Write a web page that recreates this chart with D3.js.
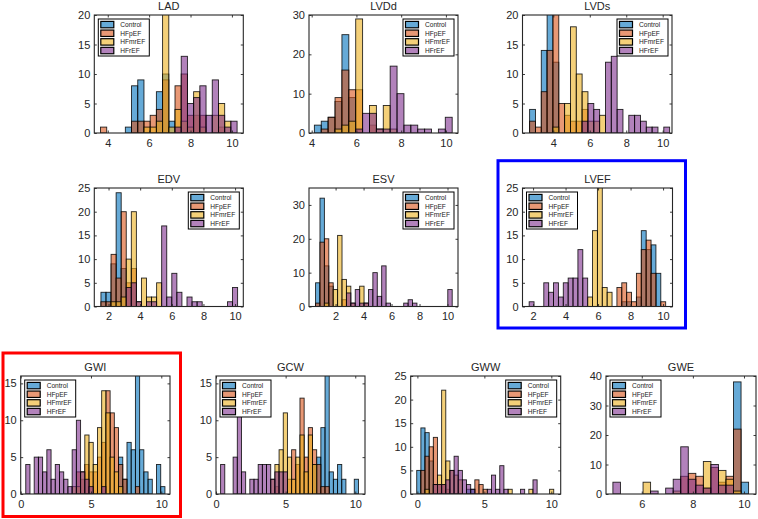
<!DOCTYPE html>
<html><head><meta charset="utf-8">
<script src="https://cdn.jsdelivr.net/npm/d3@7"></script>
<style>
body{margin:0;background:#fff}
svg{display:block}
text{font-family:"Liberation Sans",Arial,Helvetica,sans-serif}
</style>
</head><body>
<svg id="c" width="758" height="519"></svg>
<script>
// ---------- DATA ----------
const seriesNames = ["Control", "HFpEF", "HFmrEF", "HFrEF"];
const panelNames = ["LAD", "LVDd", "LVDs", "EDV", "ESV", "LVEF", "GWI", "GCW", "GWW", "GWE"];
const binStart = [3.65, 4.12, 2.7, 1.52, 0.57, 1.76, 0.36, 0.33, -0.05, 4.87];
const binWidth = [0.3, 0.308, 0.32, 0.32, 0.315, 0.3, 0.3, 0.3, 0.31, 0.295];
const xLimits = [[3.35, 10.55], [3.88, 10.54], [2.31, 10.51], [1.1, 10.52], [0.1, 10.75],
                 [1.35, 10.58], [0, 10.62], [0, 10.7], [-0.5, 10.7], [4.6, 10.47]];
const yMax = [20, 30, 20, 25, 35, 25, 16, 16, 25, 40];
const xTicks = [[4, 6, 8, 10], [4, 6, 8, 10], [4, 6, 8, 10], [2, 4, 6, 8, 10], [2, 4, 6, 8, 10],
                [2, 4, 6, 8, 10], [0, 5, 10], [0, 5, 10], [0, 5, 10], [6, 8, 10]];
const yTicks = [[0, 5, 10, 15, 20], [0, 10, 20, 30], [0, 5, 10, 15, 20], [0, 5, 10, 15, 20, 25],
                [0, 10, 20, 30], [0, 5, 10, 15, 20, 25], [0, 5, 10, 15], [0, 5, 10, 15],
                [0, 5, 10, 15, 20, 25], [0, 10, 20, 30, 40]];

const LAD_Control = [0,0,0,0,1,8,9,0,0,7,10,2,0,0,0,0,0,0,0,0,0,0];
const LAD_HFpEF   = [1,0,0,0,0,2,2,2,3,4,9,0,8,10,3,3,3,0,0,1,0,0];
const LAD_HFmrEF  = [0,0,0,0,0,0,0,1,1,2,25,1,4,2,1,7,1,0,3,5,2,0];
const LAD_HFrEF   = [0,0,0,0,0,0,0,0,0,0,0,0,1,13,5,6,8,3,9,3,1,2];

const LVDd_Control = [2,3,4,8,25,9,0,0,0,0,0,0,0,0,0,0,0,0,0,0];
const LVDd_HFpEF   = [0,1,4,9,16,11,11,0,2,0,0,0,0,0,0,0,0,0,0,0];
const LVDd_HFmrEF  = [0,0,0,1,2,3,29,0,7,1,7,1,0,0,0,0,0,0,0,0];
const LVDd_HFrEF   = [0,0,0,0,0,0,1,5,5,1,1,17,10,2,2,1,1,0,1,4];

const LVDs_Control = [4,0,14,25,12,0,0,0,0,0,0,0,0,0,0,0,0,0,0,0,0,0,0,0];
const LVDs_HFpEF   = [2,1,7,14,25,5,3,2,2,4,0,0,0,0,0,0,0,0,0,0,0,0,0,0];
const LVDs_HFmrEF  = [0,0,0,0,1,0,5,18,10,7,2,2,3,0,0,0,0,0,0,0,0,0,0,0];
const LVDs_HFrEF   = [0,0,0,0,0,0,0,0,0,2,5,4,0,12,13,4,0,3,3,2,1,1,0,1];

const EDV_Control = [3,3,9,24,8,0,0,0,0,0,0,0,0,0,0,0,0,0,0,0,0,0,0,0,0,0,0];
const EDV_HFpEF   = [1,1,11,6,20,5,8,0,0,0,0,0,0,0,0,0,0,0,0,0,0,0,0,0,0,0,0];
const EDV_HFmrEF  = [0,0,1,1,2,10,20,1,6,2,2,5,0,0,0,0,0,0,0,0,0,0,0,0,0,0,0];
const EDV_HFrEF   = [0,0,0,0,0,4,5,1,0,1,1,0,17,2,7,3,0,2,1,1,0,0,0,0,0,1,4];

const ESV_Control = [7,32,12,6,0,0,0,0,0,0,0,0,0,0,0,0,0,0,0,0,0,0,0,0,0,0,0,0,0,0,0];
const ESV_HFpEF   = [1,19,20,7,0,0,2,0,0,0,0,0,0,0,0,0,0,0,0,0,0,0,0,0,0,0,0,0,0,0,0];
const ESV_HFmrEF  = [0,0,1,0,5,21,8,6,1,0,6,1,0,0,0,0,0,0,0,0,0,0,0,0,0,0,0,0,0,0,0];
const ESV_HFrEF   = [0,0,0,0,0,0,0,4,1,5,1,1,5,10,3,12,1,0,0,0,1,2,1,0,0,0,0,0,0,0,5];

const LVEF_Control = [0,0,0,0,0,0,0,0,0,0,0,0,0,0,0,0,0,0,0,1,1,0,2,16,12,13,7,0];
const LVEF_HFpEF   = [0,0,0,0,0,0,0,0,0,0,0,0,0,0,0,0,0,0,4,5,3,1,7,12,14,7,0,1];
const LVEF_HFmrEF  = [0,0,0,0,0,0,0,0,0,0,0,0,2,16,30,4,3,0,0,0,0,0,0,0,0,0,0,0];
const LVEF_HFrEF   = [1,0,0,5,3,5,2,5,6,6,12,6,0,0,0,0,0,0,0,0,0,0,0,0,0,0,0,0];

const GWI_Control = [0,0,0,0,0,0,0,0,0,0,0,0,0,0,0,0,0,0,0,0,0,0,5,2,7,6,17,6,3,2,0,4,1];
const GWI_HFpEF   = [0,0,0,0,0,0,0,0,0,0,0,0,3,2,4,3,3,5,7,14,11,9,4,2,0,0,1,0,0,0,0,0,0];
const GWI_HFmrEF  = [0,0,0,0,0,0,0,0,0,0,0,1,1,3,8,7,4,9,14,11,5,3,1,0,0,0,0,0,0,0,0,0,0];
const GWI_HFrEF   = [4,0,5,5,3,6,2,4,3,2,1,6,10,3,2,1,0,0,1,0,0,0,0,0,0,0,0,0,0,0,0,0,0];

const GCW_Control = [0,0,0,0,0,0,0,0,0,0,0,0,0,0,0,0,0,0,0,0,0,0,4,5,9,17,3,2,4,2,0,0,2];
const GCW_HFpEF   = [0,0,0,0,0,0,0,0,0,0,0,0,0,1,0,0,2,6,4,13,5,9,6,4,1,1,0,0,0,0,0,0,0];
const GCW_HFmrEF  = [0,0,0,0,0,0,0,0,0,0,0,0,2,4,6,11,5,2,5,8,3,8,4,0,0,0,0,0,0,0,0,0,0];
const GCW_HFrEF   = [4,0,0,5,11,3,0,2,2,4,4,4,2,3,3,3,0,0,0,0,0,0,0,0,0,0,0,0,0,0,0,0,0];

const GWW_Control = [5,14,13,7,0,0,0,0,0,0,0,0,1,1,0,0,0,0,0,0,0,0,0,0,0,0,0,0,0,0,0,0,0];
const GWW_HFpEF   = [0,5,8,10,12,2,2,1,0,0,0,0,0,0,3,2,1,0,0,0,0,0,0,0,0,0,0,0,0,0,0,0,0];
const GWW_HFmrEF  = [0,0,1,0,2,4,22,7,5,4,3,0,0,0,0,0,0,0,0,0,0,0,1,0,0,0,0,1,0,0,0,0,1];
const GWW_HFrEF   = [0,0,0,0,2,2,2,3,5,8,5,3,2,1,0,0,0,1,4,1,6,1,0,0,0,1,0,0,3,0,0,0,0];

const GWE_Control = [0,0,0,0,0,0,0,0,0,0,0,0,0,0,0,0,38,4];
const GWE_HFpEF   = [0,0,0,0,0,0,0,0,0,6,7,6,2,9,4,6,22,0];
const GWE_HFmrEF  = [0,0,0,0,4,0,0,0,1,0,0,0,11,0,8,5,1,0];
const GWE_HFrEF   = [4,0,0,0,0,1,0,2,5,16,5,3,2,10,3,3,0,0];

const countTable = [
  [LAD_Control, LAD_HFpEF, LAD_HFmrEF, LAD_HFrEF],
  [LVDd_Control, LVDd_HFpEF, LVDd_HFmrEF, LVDd_HFrEF],
  [LVDs_Control, LVDs_HFpEF, LVDs_HFmrEF, LVDs_HFrEF],
  [EDV_Control, EDV_HFpEF, EDV_HFmrEF, EDV_HFrEF],
  [ESV_Control, ESV_HFpEF, ESV_HFmrEF, ESV_HFrEF],
  [LVEF_Control, LVEF_HFpEF, LVEF_HFmrEF, LVEF_HFrEF],
  [GWI_Control, GWI_HFpEF, GWI_HFmrEF, GWI_HFrEF],
  [GCW_Control, GCW_HFpEF, GCW_HFmrEF, GCW_HFrEF],
  [GWW_Control, GWW_HFpEF, GWW_HFmrEF, GWW_HFrEF],
  [GWE_Control, GWE_HFpEF, GWE_HFmrEF, GWE_HFrEF]
];

// ---------- LAYOUT / STYLE ----------
const colors = ["#0072BD", "#D95319", "#EDB120", "#7E2F8E"];
const R1 = [15, 133], R2 = [188, 306.5], R3 = [376, 494];
const layout = [
  [94.3, 243.3, ...R1], [309, 458, ...R1], [522.5, 672, ...R1],
  [94.3, 243.3, ...R2], [309, 458, ...R2], [522.5, 672.5, ...R2],
  [20.7, 170, ...R3], [216, 365, ...R3], [410.7, 560.7, ...R3], [606, 756, ...R3]
];
const legendCorner = ["nw", "ne", "ne", "ne", "ne", "nw", "nw", "nw", "ne", "nw"];

const svg = d3.select("#c");
const defs = svg.append("defs");
const axisColor = "#262626";

panelNames.forEach((name, i) => {
  const [x0, x1, y0, y1] = layout[i];
  const x = d3.scaleLinear().domain(xLimits[i]).range([x0, x1]);
  const y = d3.scaleLinear().domain([0, yMax[i]]).range([y1, y0]);
  const g = svg.append("g");

  defs.append("clipPath").attr("id", "clip" + i)
    .append("rect").attr("x", x0).attr("y", y0).attr("width", x1 - x0).attr("height", y1 - y0);

  const bars = g.append("g").attr("clip-path", `url(#clip${i})`);
  countTable[i].forEach((arr, s) => {
    const data = arr.map((c, k) => ({c, lo: binStart[i] + k * binWidth[i], hi: binStart[i] + (k + 1) * binWidth[i]}))
      .filter(d => d.c > 0);
    bars.append("g").selectAll("rect").data(data).join("rect")
      .attr("x", d => x(d.lo)).attr("width", d => x(d.hi) - x(d.lo))
      .attr("y", d => y(d.c)).attr("height", d => y(0) - y(d.c))
      .attr("fill", colors[s]).attr("fill-opacity", 0.6)
      .attr("stroke", "#000").attr("stroke-opacity", 0.85).attr("stroke-width", 0.9);
  });

  // axes
  const fmt = d3.format("d");
  const gb = g.append("g").attr("transform", `translate(0,${y1})`)
    .call(d3.axisBottom(x).tickValues(xTicks[i]).tickSizeInner(-2.5).tickSizeOuter(0).tickPadding(6).tickFormat(fmt));
  const gl = g.append("g").attr("transform", `translate(${x0},0)`)
    .call(d3.axisLeft(y).tickValues(yTicks[i]).tickSizeInner(-2.5).tickSizeOuter(0).tickPadding(4).tickFormat(fmt));
  const gt = g.append("g").attr("transform", `translate(0,${y0})`)
    .call(d3.axisTop(x).tickValues(xTicks[i]).tickSizeInner(-2.5).tickSizeOuter(0).tickFormat(""));
  const gr = g.append("g").attr("transform", `translate(${x1},0)`)
    .call(d3.axisRight(y).tickValues(yTicks[i]).tickSizeInner(-2.5).tickSizeOuter(0).tickFormat(""));
  [gb, gl, gt, gr].forEach(a => {
    a.select(".domain").remove();
    a.selectAll("line").attr("stroke", axisColor).attr("stroke-width", 0.9);
    a.selectAll("text").attr("fill", axisColor).attr("font-size", 11)
      .attr("font-family", "'Liberation Sans',Arial,Helvetica,sans-serif");
  });
  g.append("rect").attr("x", x0).attr("y", y0).attr("width", x1 - x0).attr("height", y1 - y0)
    .attr("fill", "none").attr("stroke", axisColor).attr("stroke-width", 1.1);

  // title
  g.append("text").attr("x", (x0 + x1) / 2).attr("y", y0 - 5.5)
    .attr("text-anchor", "middle").attr("font-size", 11).attr("font-weight", "normal")
    .attr("fill", axisColor).text(name);

  // legend
  const lw = 51, lh = 37, inset = 4;
  const lx = legendCorner[i] === "nw" ? x0 + inset : x1 - inset - lw;
  const ly = y0 + inset;
  const lg = g.append("g");
  lg.append("rect").attr("x", lx).attr("y", ly).attr("width", lw).attr("height", lh)
    .attr("fill", "#fff").attr("stroke", "#000").attr("stroke-width", 1);
  seriesNames.forEach((sn, s) => {
    const cy = ly + 5.6 + s * 8.65;
    lg.append("rect").attr("x", lx + 2.5).attr("y", cy - 3.2).attr("width", 13).attr("height", 6.4)
      .attr("fill", colors[s]).attr("fill-opacity", 0.6).attr("stroke", "#000").attr("stroke-width", 1.2);
    lg.append("text").attr("x", lx + 22).attr("y", cy).attr("dy", "0.35em")
      .attr("font-size", 6.6).attr("fill", "#222").text(sn);
  });
});

// highlight frames
svg.append("rect").attr("x", 498).attr("y", 160.7).attr("width", 187.5).attr("height", 167.3)
  .attr("fill", "none").attr("stroke", "#0000ff").attr("stroke-width", 3);
svg.append("rect").attr("x", 3).attr("y", 353).attr("width", 177.5).attr("height", 163.5)
  .attr("fill", "none").attr("stroke", "#ff0000").attr("stroke-width", 3);
</script>
</body></html>
